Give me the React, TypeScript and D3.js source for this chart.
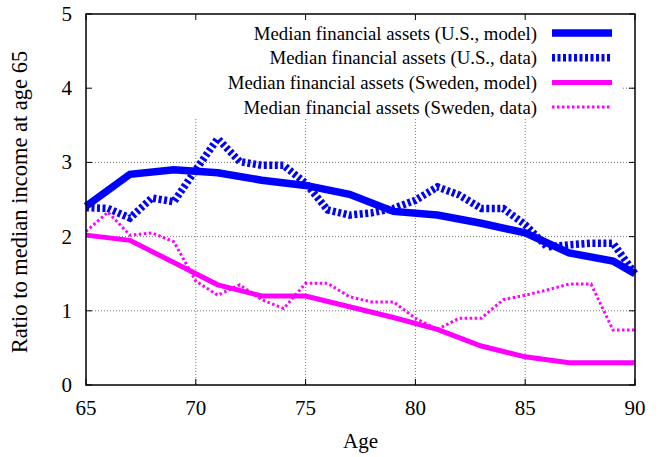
import React, { useEffect, useRef } from 'react';
import * as d3 from 'd3';

// ages / values
const modelAges = [65, 67, 69, 71, 73, 75, 77, 79, 81, 83, 85, 87, 89, 90];
const dataAges = d3.range(65, 91);

const usModel = [2.41, 2.84, 2.9, 2.86, 2.76, 2.69, 2.57, 2.34, 2.29, 2.18, 2.05, 1.78, 1.67, 1.5];
const usData = [
    2.39, 2.38, 2.25, 2.52, 2.47, 2.9, 3.32, 3.01, 2.96, 2.96, 2.72, 2.36, 2.29,
    2.32, 2.38, 2.49, 2.67, 2.56, 2.38, 2.38, 2.16, 1.86, 1.89, 1.91, 1.91, 1.5
];
const swModel = [2.02, 1.95, 1.65, 1.35, 1.2, 1.2, 1.055, 0.91, 0.75, 0.525, 0.38, 0.3, 0.3, 0.3];
const swData = [
    2.07, 2.33, 2.02, 2.05, 1.93, 1.4, 1.21, 1.35, 1.15, 1.03, 1.37, 1.37, 1.19,
    1.12, 1.12, 0.9, 0.75, 0.9, 0.9, 1.15, 1.21, 1.28, 1.36, 1.36, 0.74, 0.74
];

const xTicks = [65, 70, 75, 80, 85, 90];
const yTicks = [0, 1, 2, 3, 4, 5];

const seriesLabels = [
    'Median financial assets (U.S., model)',
    'Median financial assets (U.S., data)',
    'Median financial assets (Sweden, model)',
    'Median financial assets (Sweden, data)'
];

const W = 661;
const H = 457;

const App: React.FC = () => {
    const svgRef = useRef<SVGSVGElement>(null);

    useEffect(() => {
        const svg = d3.select(svgRef.current);
        svg.selectAll('*').remove();

        const left = 86, right = 635, top = 14, bottom = 385;
        const font = 'Liberation Serif';

        const x = d3.scaleLinear().domain([65, 90]).range([left, right]);
        const y = d3.scaleLinear().domain([0, 5]).range([bottom, top]);

        const series = [
            { ages: modelAges, vals: usModel, color: '#0000ff', width: 7.5, dash: null },
            { ages: dataAges, vals: usData, color: '#0000ff', width: 7.5, dash: '3,2.5' },
            { ages: modelAges, vals: swModel, color: '#ff00ff', width: 5, dash: null },
            { ages: dataAges, vals: swData, color: '#ff00ff', width: 3, dash: '2.5,2.5' }
        ];

        // grid
        const grid = svg.append('g')
            .attr('stroke', '#777')
            .attr('stroke-width', 1)
            .attr('stroke-dasharray', '1,2');
        xTicks.slice(1, -1).forEach(t => {
            grid.append('line')
                .attr('x1', x(t)).attr('x2', x(t))
                .attr('y1', top).attr('y2', bottom);
        });
        yTicks.slice(1, -1).forEach(t => {
            grid.append('line')
                .attr('x1', left).attr('x2', right)
                .attr('y1', y(t)).attr('y2', y(t));
        });

        // opaque key box hides grid behind it
        svg.append('rect')
            .attr('x', left + 1).attr('y', top + 1)
            .attr('width', 622 - left).attr('height', 117 - top)
            .attr('fill', '#fff');

        // ticks on all four sides
        const ticks = svg.append('g').attr('stroke', '#000').attr('stroke-width', 1);
        xTicks.forEach(t => {
            ticks.append('line').attr('x1', x(t)).attr('x2', x(t)).attr('y1', bottom).attr('y2', bottom - 6);
            ticks.append('line').attr('x1', x(t)).attr('x2', x(t)).attr('y1', top).attr('y2', top + 6);
        });
        yTicks.forEach(t => {
            ticks.append('line').attr('x1', left).attr('x2', left + 6).attr('y1', y(t)).attr('y2', y(t));
            ticks.append('line').attr('x1', right).attr('x2', right - 6).attr('y1', y(t)).attr('y2', y(t));
        });

        // lines
        const plot = svg.append('g');
        series.forEach(s => {
            const pts: [number, number][] = s.ages.map((a, i) => [a, s.vals[i]]);
            const line = d3.line<[number, number]>()
                .x(d => x(d[0]))
                .y(d => y(d[1]));
            const p = plot.append('path')
                .datum(pts)
                .attr('d', line)
                .attr('fill', 'none')
                .attr('stroke', s.color)
                .attr('stroke-width', s.width)
                .attr('stroke-linejoin', 'miter')
                .attr('stroke-linecap', 'butt');
            if (s.dash) p.attr('stroke-dasharray', s.dash);
        });

        // frame
        svg.append('rect')
            .attr('x', left).attr('y', top)
            .attr('width', right - left).attr('height', bottom - top)
            .attr('fill', 'none')
            .attr('stroke', '#000')
            .attr('stroke-width', 1.5);

        // tick labels
        const labels = svg.append('g')
            .attr('font-family', font)
            .attr('font-size', 21)
            .attr('fill', '#000');
        xTicks.forEach(t => {
            labels.append('text')
                .attr('x', x(t)).attr('y', 415)
                .attr('text-anchor', 'middle')
                .text(t);
        });
        yTicks.forEach(t => {
            labels.append('text')
                .attr('x', 72).attr('y', y(t) + 7)
                .attr('text-anchor', 'end')
                .text(t);
        });

        labels.append('text')
            .attr('x', (left + right) / 2).attr('y', 447.5)
            .attr('text-anchor', 'middle')
            .text('Age');

        labels.append('text')
            .attr('transform', `translate(27,202) rotate(-90)`)
            .attr('text-anchor', 'middle')
            .attr('font-size', 22.5)
            .text('Ratio to median income at age 65');

        // key
        const key = svg.append('g')
            .attr('font-family', font)
            .attr('font-size', 18.8);
        seriesLabels.forEach((lab, i) => {
            const cy = 33 + i * 24.7;
            key.append('text')
                .attr('x', 537).attr('y', cy + 6.5)
                .attr('text-anchor', 'end')
                .text(lab);
            const s = series[i];
            const l = key.append('line')
                .attr('x1', 552).attr('x2', 612)
                .attr('y1', cy).attr('y2', cy)
                .attr('stroke', s.color)
                .attr('stroke-width', s.width);
            if (s.dash) l.attr('stroke-dasharray', s.dash);
        });
    }, []);

    return (
        <svg
            ref={svgRef}
            width={W}
            height={H}
            style={{ position: 'absolute', left: 0, top: 0, background: '#fff' }}
        />
    );
};

export default App;
